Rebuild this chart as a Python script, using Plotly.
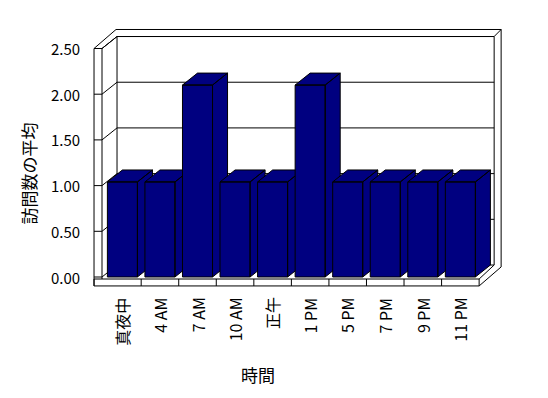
import plotly.graph_objects as go

# ---- data ----
categories = ["真夜中", "4 AM", "7 AM", "10 AM", "正午", "1 PM", "5 PM", "7 PM", "9 PM", "11 PM"]
values = [1.04, 1.04, 2.10, 1.04, 1.04, 2.10, 1.04, 1.04, 1.04, 1.04]
y_ticks = [0.0, 0.5, 1.0, 1.5, 2.0, 2.5]
y_tick_labels = ["0.00", "0.50", "1.00", "1.50", "2.00", "2.50"]
y_title = "訪問数の平均"
x_title = "時間"

# ---- 3D geometry (data units) ----
N = len(categories)
X0, X1 = -0.5, N - 0.5          # front plane category extent
YMAX = 2.5
DDX, DDY = 0.40, 0.131          # depth vector
BWX, BWY = 0.186, 0.077         # wall thickness vector
LW_IN, LW_OUT = -0.543, -0.756  # left wall inner / outer x at front
FL_TOP, FL_BOT = -0.022, -0.098 # floor front face
HALF = 0.4                      # half bar width
NAVY = "#000080"

fig = go.Figure()

def line(xs, ys, width=1):
    fig.add_trace(go.Scatter(x=xs, y=ys, mode="lines",
                             line=dict(color="black", width=width),
                             hoverinfo="skip", showlegend=False))

# back wall inner outline
line([LW_IN + DDX, X1 + DDX, X1 + DDX],
     [YMAX + DDY, YMAX + DDY, DDY])
line([LW_IN + DDX, LW_IN + DDX], [DDY, YMAX + DDY])
# back wall outer (top strip & right edge)
line([LW_OUT + DDX + BWX, X1 + DDX + BWX, X1 + DDX + BWX],
     [YMAX + DDY + BWY, YMAX + DDY + BWY, FL_BOT + DDY + BWY])
line([X1 + DDX, X1 + DDX + BWX], [YMAX + DDY, YMAX + DDY + BWY])
# left wall top
line([LW_OUT, LW_OUT + DDX + BWX], [YMAX, YMAX + DDY + BWY])
line([LW_IN, LW_IN + DDX], [YMAX, YMAX + DDY])
# left wall front face
line([LW_OUT, LW_OUT, LW_IN, LW_IN], [FL_BOT, YMAX, YMAX, FL_TOP])

# gridlines + ticks
for v in y_ticks:
    line([LW_IN, LW_IN + DDX, X1 + DDX], [v, v + DDY, v + DDY])
    line([LW_OUT, LW_IN], [v, v])

# floor
line([LW_OUT, X1, X1, LW_OUT, LW_OUT], [FL_TOP, FL_TOP, FL_BOT, FL_BOT, FL_TOP])
for k in range(1, N):
    line([k - 0.5, k - 0.5], [FL_TOP, FL_BOT])
line([X1, X1 + DDX], [FL_TOP, DDY])
line([X1, X1 + DDX + BWX], [FL_BOT, FL_BOT + DDY + BWY])

# bars
for i, v in enumerate(values):
    xl, xr = i - HALF, i + HALF
    xs = [xr, xr + DDX, xr + DDX, xr, xr, None,
          xl, xr, xr + DDX, xl + DDX, xl, None,
          xl, xr, xr, xl, xl]
    ys = [0, DDY, v + DDY, v, 0, None,
          v, v, v + DDY, v + DDY, v, None,
          0, 0, v, v, 0]
    fig.add_trace(go.Scatter(x=xs, y=ys, mode="lines", fill="toself",
                             fillcolor=NAVY, line=dict(color="black", width=1),
                             hoverinfo="skip", showlegend=False))

FONT = "Noto Sans CJK JP, Noto Sans, sans-serif"
ann = []
for v, t in zip(y_ticks, y_tick_labels):
    ann.append(dict(x=LW_OUT - 0.32, y=v, xref="x", yref="y", text=t,
                    showarrow=False, xanchor="right", yanchor="middle",
                    font=dict(family=FONT, size=15, color="black")))
for i, c in enumerate(categories):
    ann.append(dict(x=i, y=-0.2, xref="x", yref="y", text=c, textangle=-90,
                    showarrow=False, xanchor="center", yanchor="top",
                    font=dict(family=FONT, size=16, color="black")))
ann.append(dict(x=-2.49, y=1.13, xref="x", yref="y", text=y_title, textangle=-90,
                showarrow=False, xanchor="center", yanchor="middle",
                font=dict(family=FONT, size=17, color="black")))
ann.append(dict(x=3.6, y=-1.07, xref="x", yref="y", text=x_title,
                showarrow=False, xanchor="center", yanchor="middle",
                font=dict(family=FONT, size=17, color="black")))

fig.update_layout(
    width=548, height=398,
    margin=dict(l=0, r=0, t=0, b=0),
    paper_bgcolor="white", plot_bgcolor="white",
    showlegend=False,
    xaxis=dict(range=[-3.2597, 11.334], visible=False, fixedrange=True),
    yaxis=dict(range=[-1.3239, 3.0306], visible=False, fixedrange=True),
    annotations=ann,
)
fig.write_html("out.html")
